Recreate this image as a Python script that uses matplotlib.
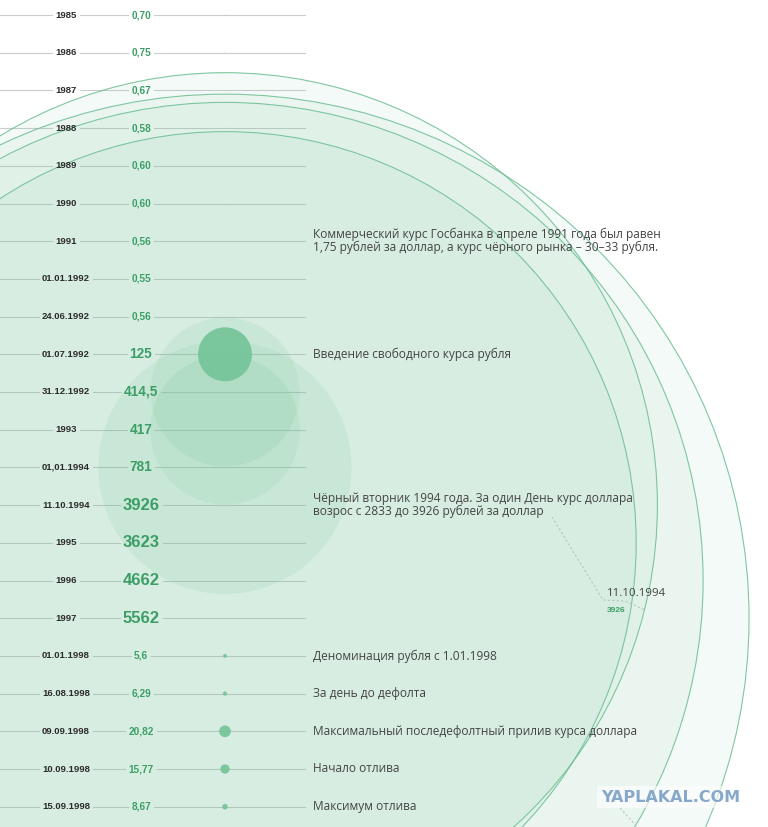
import numpy as np
import matplotlib.pyplot as plt
from matplotlib.patches import Circle

# курс рубля к доллару по датам
dates = ["1985", "1986", "1987", "1988", "1989", "1990", "1991",
         "01.01.1992", "24.06.1992", "01.07.1992", "31.12.1992", "1993",
         "01,01.1994", "11.10.1994", "1995", "1996", "1997",
         "01.01.1998", "16.08.1998", "09.09.1998", "10.09.1998", "15.09.1998"]
rates = [0.70, 0.75, 0.67, 0.58, 0.60, 0.60, 0.56,
         0.55, 0.56, 125, 414.5, 417,
         781, 3926, 3623, 4662, 5562,
         5.6, 6.29, 20.82, 15.77, 8.67]
rate_labels = ["0,70", "0,75", "0,67", "0,58", "0,60", "0,60", "0,56",
               "0,55", "0,56", "125", "414,5", "417",
               "781", "3926", "3623", "4662", "5562",
               "5,6", "6,29", "20,82", "15,77", "8,67"]

note_dates = ["1991", "01.07.1992", "11.10.1994", "01.01.1998",
              "16.08.1998", "09.09.1998", "10.09.1998", "15.09.1998"]
note_texts = [
    "Коммерческий курс Госбанка в апреле 1991 года был равен\n"
    "1,75 рублей за доллар, а курс чёрного рынка – 30–33 рубля.",
    "Введение свободного курса рубля",
    "Чёрный вторник 1994 года. За один День курс доллара\n"
    "возрос с 2833 до 3926 рублей за доллар",
    "Деноминация рубля с 1.01.1998",
    "За день до дефолта",
    "Максимальный последефолтный прилив курса доллара",
    "Начало отлива",
    "Максимум отлива",
]

GREEN = (0.46, 0.77, 0.60)
TXT_GREEN = "#3c9e66"
NUM_FONT = "Liberation Sans"

W, H = 768, 827
fig = plt.figure(figsize=(W / 100, H / 100), dpi=100)
ax = fig.add_axes([0, 0, 1, 1])
ax.set_xlim(0, W)
ax.set_ylim(H, 0)
ax.axis("off")

row_y = 15 + 37.7 * np.arange(len(dates))
x_date, x_val, x_circ, x_line_end, x_note = 66, 141, 225, 305, 313


def radius(v):
    # power scale that flattens out for the biggest values
    r_max = 700
    return r_max * np.tanh(0.445 * v ** 0.85 / r_max)


# circles, big ones first so small ones sit on top
order = np.argsort(rates)[::-1]
for i in order:
    r = radius(rates[i])
    if r > 200:
        fc, ec, lw = (*GREEN, 0.08), (0.42, 0.74, 0.57, 0.85), 0.8
    elif r > 40:
        fc, ec, lw = (*GREEN, 0.14), "none", 0
    else:
        fc, ec, lw = (*GREEN, 0.92), "none", 0
    ax.add_patch(Circle((x_circ, row_y[i]), r, facecolor=fc, edgecolor=ec,
                        lw=lw, zorder=2))

date_txt, val_txt = [], []
for d, v, lab, y in zip(dates, rates, rate_labels, row_y):
    date_txt.append(ax.text(x_date, y, d, ha="center", va="center", fontsize=6.8,
                            fontweight="bold", color="#2b2b2b", family=NUM_FONT, zorder=4))
    fs = 7.2 if v < 100 else (9.8 if v < 1000 else 12)
    val_txt.append(ax.text(x_val, y, lab, ha="center", va="center", fontsize=fs,
                           fontweight="bold", color=TXT_GREEN, family=NUM_FONT, zorder=4))

for d, t in zip(note_dates, note_texts):
    y = row_y[dates.index(d)]
    ax.text(x_note, y, t, ha="left", va="center", fontsize=8.6, color="#444444",
            family="Open Sans", linespacing=0.95, zorder=4)

# row lines broken around the labels
fig.canvas.draw()
rend = fig.canvas.get_renderer()
inv = ax.transData.inverted()
for y, td, tv in zip(row_y, date_txt, val_txt):
    bd = td.get_window_extent(rend).transformed(inv)
    bv = tv.get_window_extent(rend).transformed(inv)
    for a, b in [(0, bd.x0 - 3), (bd.x1 + 3, bv.x0 - 3), (bv.x1 + 3, x_line_end)]:
        ax.plot([a, b], [y, y], color="#cccccc", lw=0.8, zorder=1)

# callout for 11.10.1994
i94 = dates.index("11.10.1994")
ang = np.deg2rad(14)
r94 = radius(rates[i94])
end = (x_circ + r94 * np.cos(ang), row_y[i94] + r94 * np.sin(ang))
ax.plot([552, 603, 625, end[0]], [517, 600, 601, end[1]], color="#b3c7bb",
        lw=0.8, ls=(0, (2, 2)), zorder=3)
ax.text(607, 593, "11.10.1994", ha="left", va="center", fontsize=8.2,
        color="#444444", family="Open Sans", zorder=4)
ax.text(607, 610, rate_labels[i94], ha="left", va="center", fontsize=6,
        fontweight="bold", color=TXT_GREEN, family=NUM_FONT, zorder=4)
ax.plot([620, 640], [808, 830], color="#b3c7bb", lw=0.8, ls=(0, (2, 2)), zorder=3)

ax.text(671, 797, "YAPLAKAL.COM", ha="center", va="center", fontsize=11.5,
        fontweight="bold", color="#87a8cb", family="DejaVu Sans", zorder=5,
        bbox=dict(boxstyle="square,pad=0.25", fc=(1, 1, 1, 0.6), ec="none"))

fig.savefig("out.png", dpi=100)
